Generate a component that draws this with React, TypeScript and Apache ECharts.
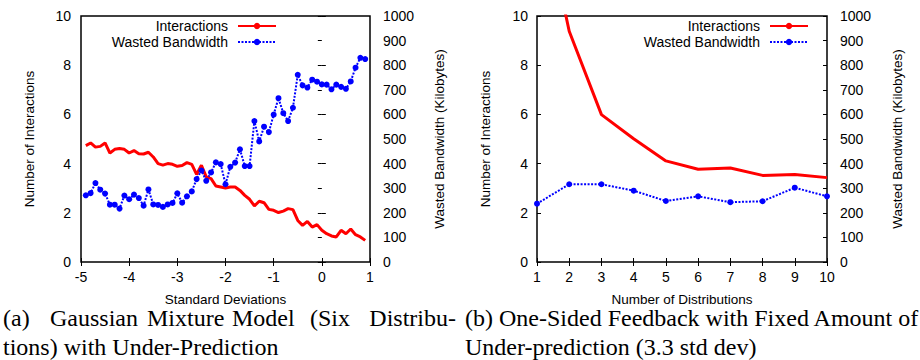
import React, { useEffect, useRef } from "react";
import * as echarts from "echarts";

const stdDevs = [
  -4.9, -4.8, -4.7, -4.6, -4.5, -4.4, -4.3, -4.2, -4.1, -4.0,
  -3.9, -3.8, -3.7, -3.6, -3.5, -3.4, -3.3, -3.2, -3.1, -3.0,
  -2.9, -2.8, -2.7, -2.6, -2.5, -2.4, -2.3, -2.2, -2.1, -2.0,
  -1.9, -1.8, -1.7, -1.6, -1.5, -1.4, -1.3, -1.2, -1.1, -1.0,
  -0.9, -0.8, -0.7, -0.6, -0.5, -0.4, -0.3, -0.2, -0.1, 0.0,
  0.1, 0.2, 0.3, 0.4, 0.5, 0.6, 0.7, 0.8, 0.9,
];
const interactionsA = [
  4.73, 4.84, 4.67, 4.7, 4.84, 4.43, 4.58, 4.61, 4.58, 4.43,
  4.53, 4.4, 4.39, 4.46, 4.27, 4.0, 3.94, 4.0, 3.97, 3.89,
  3.92, 4.04, 3.97, 3.56, 3.93, 3.46, 3.39, 3.09, 3.05, 3.01,
  3.05, 3.05, 2.91, 2.71, 2.55, 2.28, 2.47, 2.41, 2.14, 2.1,
  2.01, 2.07, 2.17, 2.13, 1.69, 1.49, 1.65, 1.42, 1.52, 1.29,
  1.15, 1.06, 1.02, 1.29, 1.15, 1.34, 1.11, 1.02, 0.88,
];
const wastedA = [
  271, 280, 321, 294, 278, 233, 233, 217, 270, 255,
  274, 260, 229, 295, 234, 232, 224, 234, 240, 279,
  241, 267, 287, 337, 372, 330, 364, 405, 398, 316,
  387, 404, 458, 390, 390, 573, 490, 550, 528, 599,
  666, 605, 573, 627, 761, 718, 709, 741, 733, 722,
  721, 702, 721, 712, 704, 734, 790, 830, 825,
];
const distributions = [1, 2, 3, 4, 5, 6, 7, 8, 9, 10];
const interactionsB = [15.5, 9.38, 5.99, 5.01, 4.11, 3.77, 3.82, 3.52, 3.56, 3.43];
const wastedB = [237, 316, 316, 290, 248, 267, 243, 247, 302, 267];

const seriesNames = ["Interactions", "Wasted Bandwidth"];
const captionA1 = ["(a)", "Gaussian", "Mixture", "Model", "(Six", "Distribu-"];
const captionA2 = "tions) with Under-Prediction";
const captionB1 = "(b) One-Sided Feedback with Fixed Amount of";
const captionB2 = "Under-prediction (3.3 std dev)";

const SANS = "'Liberation Sans', Arial, sans-serif";
const SERIF = "'Liberation Serif', 'Times New Roman', serif";
const RED = "#ff0000";
const BLUE = "#0000ff";

const plainNumber = (v: number) => String(v);

function xAxes(gridIndex: number, min: number, max: number, name: string) {
  const tick = { show: true, inside: true, length: 4, lineStyle: { color: "#000", width: 1 } };
  return [
    {
      type: "value", gridIndex, min, max, interval: 1, position: "bottom",
      axisLine: { show: false }, axisTick: tick, splitLine: { show: false },
      axisLabel: { fontSize: 14, fontFamily: SANS, color: "#000", margin: 8, showMinLabel: true, showMaxLabel: true, formatter: plainNumber },
      name, nameLocation: "middle", nameGap: 30,
      nameTextStyle: { fontSize: 13.5, fontFamily: SANS, color: "#000" },
    },
    {
      type: "value", gridIndex, min, max, interval: 1, position: "top",
      axisLine: { show: false }, axisTick: tick, splitLine: { show: false },
      axisLabel: { show: false },
    },
  ];
}

function yAxes(gridIndex: number, leftGap: number, rightGap: number, leftMargin: number) {
  const tick = { show: true, inside: true, length: 4, lineStyle: { color: "#000", width: 1 } };
  return [
    {
      type: "value", gridIndex, min: 0, max: 10, interval: 2, position: "left",
      axisLine: { show: false }, axisTick: tick, splitLine: { show: false },
      axisLabel: { fontSize: 14, fontFamily: SANS, color: "#000", margin: leftMargin, showMinLabel: true, showMaxLabel: true, formatter: plainNumber },
      name: "Number of Interactions", nameLocation: "middle", nameGap: leftGap,
      nameTextStyle: { fontSize: 13.5, fontFamily: SANS, color: "#000" },
    },
    {
      type: "value", gridIndex, min: 0, max: 1000, interval: 100, position: "right",
      axisLine: { show: false }, axisTick: tick, splitLine: { show: false },
      axisLabel: { fontSize: 14, fontFamily: SANS, color: "#000", margin: 13, showMinLabel: true, showMaxLabel: true, formatter: plainNumber },
      name: "Wasted Bandwidth (Kilobytes)", nameLocation: "middle", nameGap: rightGap, nameRotate: 90,
      nameTextStyle: { fontSize: 13.5, fontFamily: SANS, color: "#000" },
    },
  ];
}

function lineSeries(xs: number[], inter: number[], wasted: number[], xi: number, yi: number) {
  return [
    {
      name: seriesNames[0], type: "line", xAxisIndex: xi, yAxisIndex: yi,
      data: xs.map((x, i) => [x, inter[i]]),
      symbol: "none", showSymbol: false, clip: true,
      lineStyle: { color: RED, width: 3 }, itemStyle: { color: RED },
    },
    {
      name: seriesNames[1], type: "line", xAxisIndex: xi, yAxisIndex: yi + 1,
      data: xs.map((x, i) => [x, wasted[i]]),
      symbol: "circle", symbolSize: 6, clip: true,
      lineStyle: { color: BLUE, width: 2, type: [2, 1.5] }, itemStyle: { color: BLUE },
    },
  ];
}

function legend(right: number) {
  return {
    data: seriesNames, orient: "vertical", align: "right", right, top: 19,
    itemWidth: 38, itemHeight: 8, itemGap: 2, padding: 0,
    textStyle: { fontSize: 14, fontFamily: SANS, color: "#000", padding: [0, 5, 0, 0] },
    selectedMode: false,
  };
}

export default function App() {
  const ref = useRef<HTMLDivElement>(null);
  useEffect(() => {
    if (!ref.current) return;
    const chart = echarts.init(ref.current, null, { renderer: "svg" });
    const wordX = [3, 50, 147, 232, 310];
    const captionStyle = { fontSize: 24, fontFamily: SERIF, fill: "#000", verticalAlign: "middle" };
    const graphics: any[] = [];
    captionA1.forEach((w, i) => {
      if (i < wordX.length) {
        graphics.push({ type: "text", x: wordX[i], y: 318, style: { ...captionStyle, text: w, align: "left" } });
      } else {
        graphics.push({ type: "text", x: 456, y: 318, style: { ...captionStyle, text: w, align: "right" } });
      }
    });
    graphics.push({ type: "text", x: 3, y: 347, style: { ...captionStyle, text: captionA2, align: "left" } });
    graphics.push({ type: "text", x: 465, y: 318, style: { ...captionStyle, text: captionB1, align: "left" } });
    graphics.push({ type: "text", x: 465, y: 347, style: { ...captionStyle, text: captionB2, align: "left" } });

    chart.setOption({
      animation: false,
      backgroundColor: "#fff",
      grid: [
        { left: 81, top: 16, width: 289, height: 246, show: true, borderColor: "#000", borderWidth: 1.5, backgroundColor: "transparent" },
        { left: 537, top: 16, width: 290, height: 246, show: true, borderColor: "#000", borderWidth: 1.5, backgroundColor: "transparent" },
      ],
      xAxis: [...xAxes(0, -5, 1, "Standard Deviations"), ...xAxes(1, 1, 10, "Number of Distributions")],
      yAxis: [...yAxes(0, 45, 62, 10), ...yAxes(1, 45, 63, 9)],
      legend: [legend(643), legend(111)],
      series: [
        ...lineSeries(stdDevs, interactionsA, wastedA, 0, 0),
        ...lineSeries(distributions, interactionsB, wastedB, 2, 2),
      ],
      graphic: graphics,
    });
    return () => chart.dispose();
  }, []);
  return <div ref={ref} style={{ position: "absolute", left: 0, top: 0, width: 920, height: 360 }} />;
}
